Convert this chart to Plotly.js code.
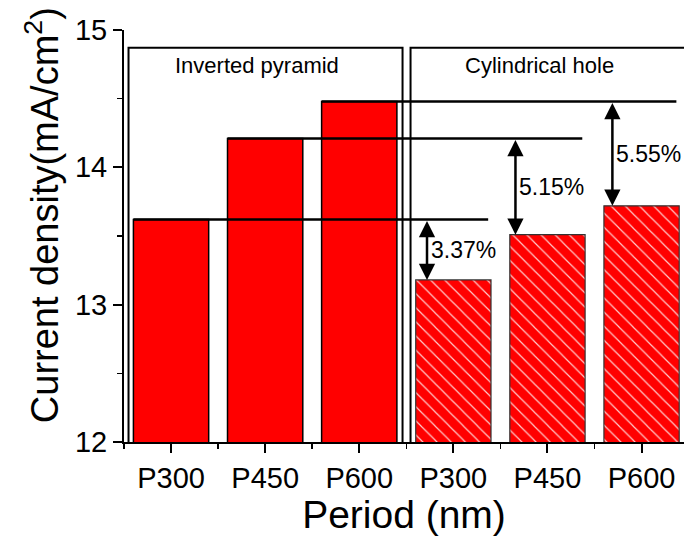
<!DOCTYPE html>
<html>
<head>
<meta charset="utf-8">
<script src="https://cdn.plot.ly/plotly-3.0.1.min.js"></script>
<style>
  html, body { margin: 0; padding: 0; background: #ffffff; }
  #chart { width: 684px; height: 536px; }
</style>
</head>
<body>
<div id="chart"></div>
<script>
// ---- data ----
const periods = ['P300', 'P450', 'P600'];
const invertedPyramid = [13.62, 14.21, 14.48];
const cylindricalHole = [13.18, 13.51, 13.72];
const percentLabels = ['3.37%', '5.15%', '5.55%'];
const groupLabels = ['Inverted pyramid', 'Cylindrical hole'];
const yTitle = 'Current density(mA/cm<sup>2</sup>)';
const xTitle = 'Period (nm)';

// ---- derived positions ----
const xInv = periods.map((p, i) => i + 1);
const xCyl = periods.map((p, i) => i + 1 + periods.length);
const tickVals = xInv.concat(xCyl);
const tickText = periods.concat(periods);

const FONT = 'Liberation Sans, Arial, sans-serif';
const RED = '#ff0000';
const BARW = 0.8;

const traces = [
  {
    type: 'bar', x: xInv, y: invertedPyramid, width: BARW,
    name: groupLabels[0],
    marker: { color: RED, line: { color: '#000000', width: 1.5 } },
    hoverinfo: 'x+y'
  },
  {
    type: 'bar', x: xCyl, y: cylindricalHole, width: BARW,
    name: groupLabels[1],
    marker: {
      color: RED,
      line: { color: '#333333', width: 1.2 },
      pattern: { shape: '\\', fgcolor: '#ffffff', bgcolor: RED, size: 10, solidity: 0.12, fgopacity: 0.8 }
    },
    hoverinfo: 'x+y'
  }
];

const shapes = [];
// group boxes
shapes.push({ type: 'rect', xref: 'x', yref: 'y', x0: 0.548, x1: 3.46, y0: 11.99, y1: 14.87,
  line: { color: '#000000', width: 2 }, fillcolor: 'rgba(0,0,0,0)', layer: 'above' });
shapes.push({ type: 'rect', xref: 'x', yref: 'y', x0: 3.545, x1: 6.6, y0: 11.99, y1: 14.87,
  line: { color: '#000000', width: 2 }, fillcolor: 'rgba(0,0,0,0)', layer: 'above' });
// reference lines at inverted-pyramid level
invertedPyramid.forEach((v, i) => {
  shapes.push({ type: 'line', xref: 'x', yref: 'y',
    x0: xInv[i] - BARW / 2, x1: xCyl[i] + 0.37, y0: v, y1: v,
    line: { color: '#000000', width: 2.5 }, layer: 'above' });
});

const annotations = [];
const arrowOffsets = [-0.28, -0.34, -0.31];
invertedPyramid.forEach((v, i) => {
  const ax = xCyl[i] + arrowOffsets[i];
  annotations.push({ x: ax, y: cylindricalHole[i], ax: ax, ay: v, xref: 'x', yref: 'y',
    axref: 'x', ayref: 'y', text: '', showarrow: true, arrowside: 'end+start',
    arrowhead: 2, arrowsize: 1.3, arrowwidth: 2.5, arrowcolor: '#000000', standoff: 0, startstandoff: 0 });
  annotations.push({ x: ax, y: (v + cylindricalHole[i]) / 2, xref: 'x', yref: 'y',
    text: percentLabels[i], showarrow: false, xanchor: 'left', yanchor: 'middle', xshift: 2,
    font: { family: FONT, size: 23, color: '#000000' } });
});
annotations.push({ x: 1.91, y: 14.74, xref: 'x', yref: 'y', text: groupLabels[0], showarrow: false,
  font: { family: FONT, size: 22, color: '#000000' } });
annotations.push({ x: 4.915, y: 14.745, xref: 'x', yref: 'y', text: groupLabels[1], showarrow: false,
  font: { family: FONT, size: 22, color: '#000000' } });
// y-axis title (placed as annotation to match reference vertical position)
annotations.push({ x: -0.145, y: 0.55, xref: 'paper', yref: 'paper', text: yTitle, showarrow: false,
  textangle: -90, xanchor: 'center', yanchor: 'middle',
  font: { family: FONT, size: 38, color: '#000000' } });

const layout = {
  width: 684, height: 536,
  margin: { l: 124, r: 0, t: 30, b: 94, pad: 0 },
  paper_bgcolor: '#ffffff', plot_bgcolor: '#ffffff',
  showlegend: false,
  barmode: 'overlay',
  font: { family: FONT, color: '#000000' },
  xaxis: {
    range: [0.5, 6.451], tickmode: 'array', tickvals: tickVals, ticktext: tickText,
    showline: true, linecolor: '#000000', linewidth: 2,
    ticks: 'outside', ticklen: 9, tickwidth: 2, tickcolor: '#000000',
    minor: { tickmode: 'linear', tick0: 0.5, dtick: 1, ticks: 'outside', ticklen: 5, tickwidth: 1.5, tickcolor: '#000000' },
    showgrid: false, zeroline: false,
    tickfont: { family: FONT, size: 29, color: '#000000' },
    title: { text: xTitle, font: { family: FONT, size: 39, color: '#000000' }, standoff: 0 }
  },
  yaxis: {
    range: [12, 15], tickmode: 'linear', tick0: 12, dtick: 1,
    showline: true, linecolor: '#000000', linewidth: 2,
    ticks: 'outside', ticklen: 9, tickwidth: 2, tickcolor: '#000000',
    minor: { tickmode: 'linear', tick0: 12, dtick: 0.5, ticks: 'outside', ticklen: 5, tickwidth: 1.5, tickcolor: '#000000' },
    showgrid: false, zeroline: false,
    tickfont: { family: FONT, size: 29, color: '#000000' }
  },
  shapes: shapes,
  annotations: annotations
};

Plotly.newPlot('chart', traces, layout, { displayModeBar: false, staticPlot: true });
</script>
</body>
</html>
